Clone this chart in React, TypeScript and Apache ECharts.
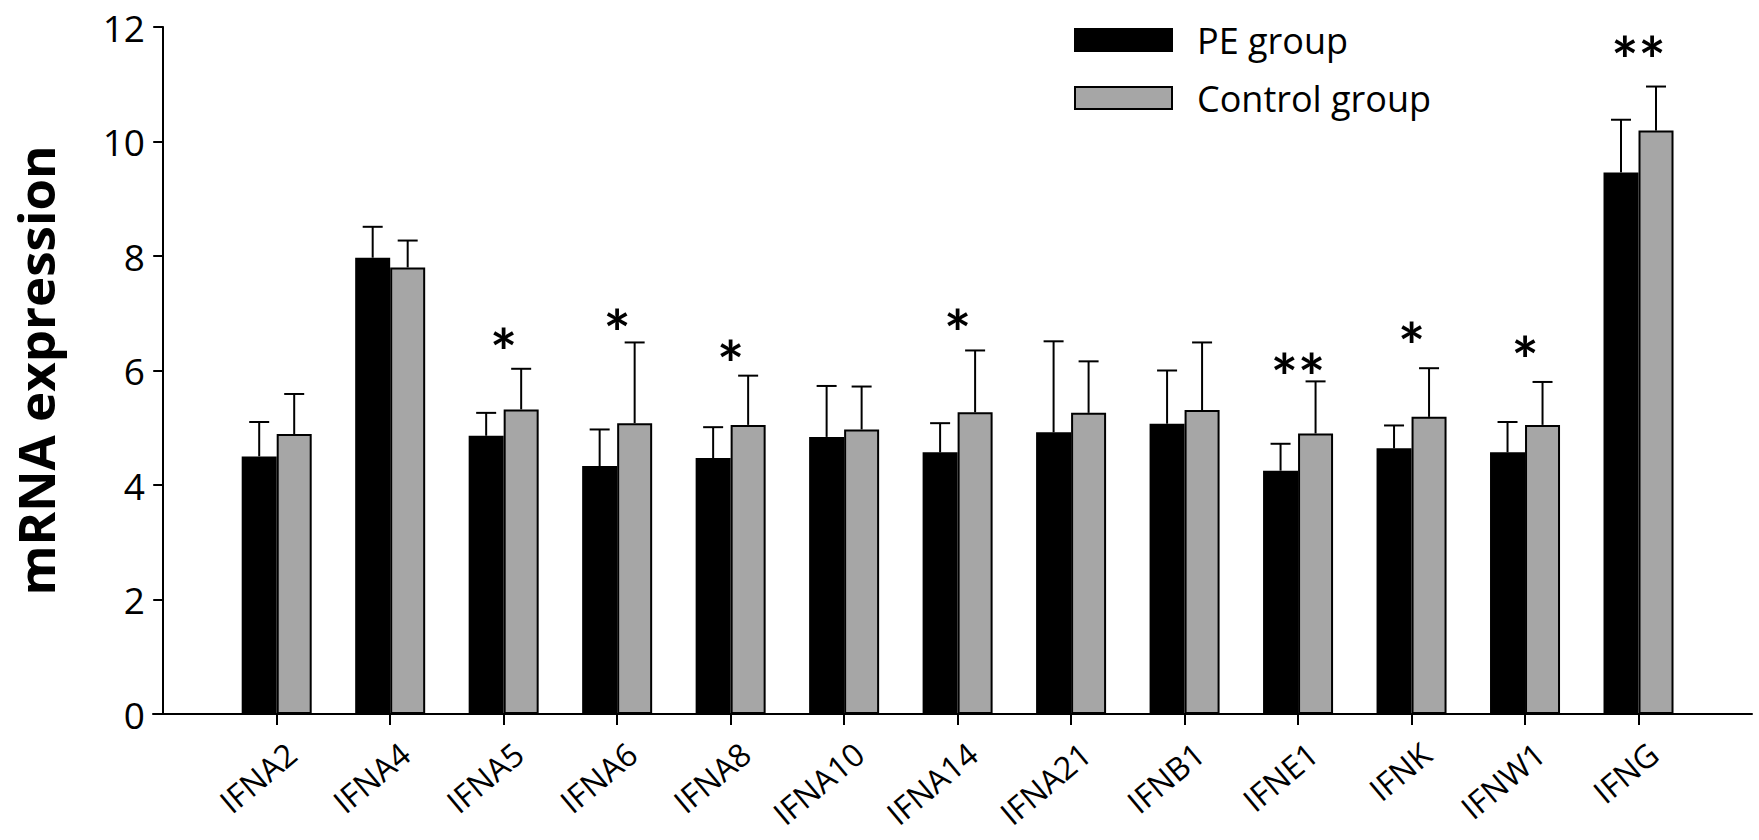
import { useEffect, useRef } from "react";
import * as echarts from "echarts";

// gene names along the x axis
const genes = [
  "IFNA2", "IFNA4", "IFNA5", "IFNA6", "IFNA8", "IFNA10", "IFNA14",
  "IFNA21", "IFNB1", "IFNE1", "IFNK", "IFNW1", "IFNG",
];
const positions = [1, 2, 3, 4, 5, 6, 7, 8, 9, 10, 11, 12, 13];

// means and upper error (SD)
const peMean = [4.5, 7.97, 4.86, 4.33, 4.47, 4.84, 4.57, 4.92, 5.07, 4.25, 4.64, 4.57, 9.46];
const peSd = [0.6, 0.54, 0.4, 0.64, 0.54, 0.89, 0.51, 1.59, 0.93, 0.47, 0.4, 0.53, 0.92];
const ctrlMean = [4.89, 7.8, 5.32, 5.08, 5.05, 4.97, 5.27, 5.26, 5.31, 4.9, 5.19, 5.05, 10.19];
const ctrlSd = [0.7, 0.47, 0.71, 1.41, 0.86, 0.75, 1.08, 0.9, 1.18, 0.91, 0.85, 0.75, 0.77];

// significance marks and the height they sit at
const stars = ["", "", "*", "*", "*", "", "*", "", "", "**", "*", "*", "**"];
const starY = [0, 0, 6.6, 6.92, 6.38, 0, 6.92, 0, 0, 6.15, 6.7, 6.46, 11.7];

const yTicks = [0, 2, 4, 6, 8, 10, 12];

const FONT = '"Open Sans", Lato, sans-serif';
const STAR_FONT = 'Lato, "Open Sans", sans-serif';
const BAR_W = 35;
const LABEL_SHIFT = 0.13; // rotated labels end a little right of the tick

export default function App() {
  const chartRef = useRef<HTMLDivElement>(null);

  useEffect(() => {
    if (!chartRef.current) return;
    const chart = echarts.init(chartRef.current, null, { renderer: "svg" });

    const errData = positions.map((p, i) => [p, peMean[i], peSd[i], ctrlMean[i], ctrlSd[i], starY[i]]);

    const option: echarts.EChartsOption = {
      animation: false,
      grid: {
        left: 153,
        right: 7,
        top: 27,
        bottom: 126,
        containLabel: false,
        outerBoundsMode: "none",
      } as any,
      legend: {
        data: ["PE group", "Control group"],
        orient: "vertical",
        left: 1074,
        top: 22,
        padding: 0,
        itemWidth: 97,
        itemHeight: 22,
        itemGap: 22,
        selectedMode: false,
        icon: "rect",
        textStyle: {
          fontFamily: FONT,
          fontSize: 36,
          lineHeight: 34,
          color: "#000",
          padding: [0, 0, 0, 20],
        },
      },
      xAxis: {
        type: "value",
        min: -0.09,
        max: 14,
        splitLine: { show: false },
        axisLine: { lineStyle: { color: "#000", width: 2 } },
        axisTick: {
          customValues: positions,
          length: 11,
          lineStyle: { color: "#000", width: 2 },
        },
        axisLabel: {
          customValues: positions.map((p) => p + LABEL_SHIFT),
          rotate: 40,
          margin: 35,
          fontFamily: FONT,
          fontSize: 32,
          lineHeight: 32,
          color: "#000",
          formatter: (v: number) => genes[Math.round(v) - 1] ?? "",
        },
      } as any,
      yAxis: {
        type: "value",
        min: 0,
        max: 12,
        interval: 2,
        name: "mRNA expression",
        nameLocation: "middle",
        nameRotate: 90,
        nameGap: 92,
        nameTextStyle: {
          fontFamily: FONT,
          fontSize: 51,
          lineHeight: 52,
          fontWeight: "bold",
          color: "#000",
        },
        splitLine: { show: false },
        axisLine: { show: true, lineStyle: { color: "#000", width: 2 } },
        axisTick: { show: true, length: 10, lineStyle: { color: "#000", width: 2 } },
        axisLabel: {
          margin: 8,
          fontFamily: FONT,
          fontSize: 37,
          color: "#000",
          formatter: (v: number) => (yTicks.includes(v) ? String(v) : ""),
        },
      },
      series: [
        {
          name: "PE group",
          type: "bar",
          data: positions.map((p, i) => [p, peMean[i]]),
          barWidth: BAR_W,
          barGap: "0%",
          itemStyle: { color: "#000", borderColor: "#000", borderWidth: 2 },
        },
        {
          name: "Control group",
          type: "bar",
          data: positions.map((p, i) => [p, ctrlMean[i]]),
          barWidth: BAR_W,
          barGap: "0%",
          itemStyle: { color: "#a6a6a6", borderColor: "#000", borderWidth: 2 },
        },
        {
          type: "custom",
          z: 5,
          silent: true,
          data: errData,
          encode: { x: 0, y: 1 },
          renderItem: (params: any, api: any) => {
            const x = api.value(0);
            const children: any[] = [];
            const pairs = [
              [api.value(1), api.value(2), -BAR_W / 2],
              [api.value(3), api.value(4), BAR_W / 2],
            ];
            pairs.forEach(([m, sd, dx]) => {
              const base = api.coord([x, m]);
              const top = api.coord([x, m + sd]);
              const cx = base[0] + dx;
              children.push({
                type: "line",
                shape: { x1: cx, y1: base[1], x2: cx, y2: top[1] },
                style: { stroke: "#000", lineWidth: 2 },
              });
              children.push({
                type: "line",
                shape: { x1: cx - 10, y1: top[1], x2: cx + 10, y2: top[1] },
                style: { stroke: "#000", lineWidth: 2 },
              });
            });
            const s = stars[params.dataIndex];
            if (s) {
              const p = api.coord([x, api.value(5)]);
              children.push({
                type: "text",
                x: p[0],
                y: p[1] + 15,
                style: {
                  text: s,
                  fontFamily: STAR_FONT,
                  fontSize: 64,
                  fontWeight: "bold",
                  fill: "#000",
                  align: "center",
                  verticalAlign: "middle",
                },
              });
            }
            return { type: "group", children };
          },
        },
      ],
    };

    chart.setOption(option);
    return () => chart.dispose();
  }, []);

  return (
    <div
      ref={chartRef}
      style={{ position: "fixed", left: 0, top: 0, width: 1759, height: 840, background: "#fff" }}
    />
  );
}
